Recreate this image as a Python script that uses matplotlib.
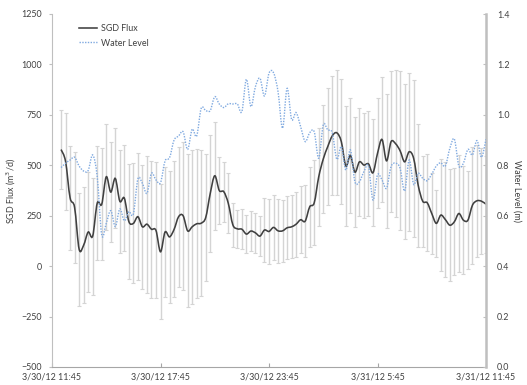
import numpy as np
import pandas as pd
import matplotlib
matplotlib.use('Agg')
import matplotlib.pyplot as plt
import matplotlib.dates as mdates
from matplotlib.path import Path
from matplotlib.patches import PathPatch
from matplotlib.lines import Line2D

plt.rcParams['font.family'] = ['Lato', 'DejaVu Sans']

# 15 minute readings, 3/30/12 12:15 -> 3/31/12 11:45
times = pd.date_range('2012-03-30 12:15', periods=95, freq='15min')

sgd_flux = [578, 519, 339, 291, 84, 104, 169, 149, 312, 307,
            443, 367, 435, 322, 337, 221, 212, 245, 195, 208,
            183, 177, 71, 169, 145, 182, 245, 250, 175, 195,
            210, 213, 241, 360, 448, 375, 369, 311, 205, 185,
            183, 159, 174, 165, 149, 179, 172, 192, 175, 175,
            190, 195, 208, 230, 223, 294, 314, 443, 531, 593,
            646, 661, 617, 496, 549, 466, 517, 501, 507, 463,
            559, 628, 522, 617, 607, 572, 517, 567, 534, 401,
            322, 314, 261, 212, 253, 231, 203, 220, 261, 228,
            228, 302, 324, 322, 307]

sgd_err = [198, 241, 259, 273, 281, 289, 299, 290, 283, 277,
           262, 247, 248, 256, 262, 283, 297, 314, 306, 339,
           339, 337, 334, 324, 326, 337, 347, 367, 380, 383,
           369, 362, 314, 289, 268, 164, 148, 149, 108, 93,
           99, 95, 97, 99, 98, 160, 163, 161, 160, 153,
           157, 157, 161, 167, 179, 198, 210, 244, 270, 288,
           295, 310, 309, 298, 286, 271, 268, 260, 260, 264,
           273, 308, 332, 351, 365, 395, 384, 392, 389, 306,
           225, 240, 202, 166, 276, 284, 277, 265, 289, 268,
           243, 289, 278, 263, 241]

water_level = [0.791, 0.808, 0.821, 0.832, 0.797, 0.777, 0.779, 0.841, 0.755, 0.524,
               0.570, 0.620, 0.557, 0.627, 0.580, 0.616, 0.607, 0.746, 0.728, 0.689,
               0.768, 0.742, 0.731, 0.817, 0.830, 0.900, 0.916, 0.933, 0.863, 0.943,
               0.916, 1.026, 1.017, 1.017, 1.072, 1.043, 1.029, 1.044, 1.043, 1.043,
               1.013, 1.141, 1.033, 1.112, 1.145, 1.075, 1.165, 1.167, 1.092, 0.947,
               1.105, 0.982, 1.009, 0.953, 0.894, 0.929, 0.933, 0.828, 0.960, 0.940,
               0.929, 0.824, 0.874, 0.781, 0.861, 0.735, 0.735, 0.775, 0.797, 0.662,
               0.762, 0.742, 0.709, 0.795, 0.808, 0.788, 0.698, 0.821, 0.724, 0.768,
               0.748, 0.739, 0.765, 0.797, 0.810, 0.797, 0.867, 0.904, 0.797, 0.808,
               0.863, 0.841, 0.898, 0.832, 0.903]

tick_times = pd.date_range('2012-03-30 11:45', periods=5, freq='6h')
tick_labels = ['3/30/12 11:45', '3/30/12 17:45', '3/30/12 23:45',
               '3/31/12 5:45', '3/31/12 11:45']


def smooth_path(x, y):
    # Excel-style smoothed line: cubic Bezier through every point
    x = np.asarray(x, float)
    y = np.asarray(y, float)
    n = len(x)
    verts = [(x[0], y[0])]
    codes = [Path.MOVETO]
    for i in range(n - 1):
        a = max(i - 1, 0)
        b = min(i + 2, n - 1)
        c1 = (x[i] + (x[i + 1] - x[a]) / 6, y[i] + (y[i + 1] - y[a]) / 6)
        c2 = (x[i + 1] - (x[b] - x[i]) / 6, y[i + 1] - (y[b] - y[i]) / 6)
        verts += [c1, c2, (x[i + 1], y[i + 1])]
        codes += [Path.CURVE4] * 3
    return Path(verts, codes)


t = mdates.date2num(times.to_pydatetime())
tt = mdates.date2num(tick_times.to_pydatetime())

flux_color = '#404040'
wl_color = '#7fa9e0'
axis_gray = '#bfbfbf'
text_color = '#404040'
fs = 6.4

fig = plt.figure(figsize=(5.27, 3.85), dpi=100)
ax = fig.add_axes([52 / 527, 1 - 367 / 385, 434 / 527, 353 / 385])
ax2 = ax.twinx()

ax.errorbar(t, sgd_flux, yerr=sgd_err, fmt='none', ecolor='#d4d4d4',
            elinewidth=1.0, capsize=1.6, capthick=0.8, zorder=1)
ax.add_patch(PathPatch(smooth_path(t, sgd_flux), fill=False,
                       edgecolor=flux_color, lw=1.15, zorder=3))
ax2.add_patch(PathPatch(smooth_path(t, water_level), fill=False,
                        edgecolor=wl_color, lw=1.0, linestyle=(0, (1, 1)),
                        zorder=3))

ax.set_xlim(tt[0], tt[-1])
ax.set_ylim(-500, 1250)
ax.set_yticks(np.arange(-500, 1251, 250))
ax2.set_ylim(0, 1.4)
ax2.set_yticks(np.arange(0, 1.41, 0.2))
ax2.set_yticklabels(['%.1f' % v for v in np.arange(0, 1.41, 0.2)])
ax.set_xticks(tt)
ax.set_xticklabels(tick_labels)

for a in (ax, ax2):
    a.spines['top'].set_visible(False)
    a.spines['left'].set_color(axis_gray)
    a.spines['right'].set_color(axis_gray)
    a.spines['bottom'].set_color('#a6a6a6')
    a.patch.set_visible(False)
ax.spines['right'].set_visible(False)
ax2.spines['left'].set_visible(False)
ax2.spines['bottom'].set_visible(False)
ax2.spines['right'].set_linewidth(1.8)

ax.tick_params(axis='y', direction='out', length=2.5, width=0.8,
               color=axis_gray, labelsize=fs, labelcolor=text_color, pad=5)
ax.tick_params(axis='x', direction='in', length=3, width=0.8,
               color='#a6a6a6', labelsize=fs, labelcolor=text_color, pad=4)
ax2.tick_params(axis='y', direction='in', length=2.5, width=0.8,
                color=axis_gray, labelsize=fs, labelcolor=text_color, pad=8)

ax.set_ylabel('SGD Flux (m$^3$/d)', fontsize=fs, color=text_color)
ax.yaxis.set_label_coords(-0.078, 0.5)
ax2.set_ylabel('Water Level (m)', fontsize=fs, color=text_color,
               rotation=270, va='center')
ax2.yaxis.set_label_coords(1.071, 0.5)

handles = [Line2D([], [], color=flux_color, lw=1.15),
           Line2D([], [], color=wl_color, lw=1.0, linestyle=(0, (1, 1)))]
leg = ax.legend(handles, ['SGD Flux', 'Water Level'], loc='upper left',
                bbox_to_anchor=(0.044, 0.995), frameon=False, fontsize=fs,
                handlelength=2.0, handletextpad=0.45, labelspacing=0.65)
for txt in leg.get_texts():
    txt.set_color(text_color)

fig.savefig('out.png', dpi=100)
